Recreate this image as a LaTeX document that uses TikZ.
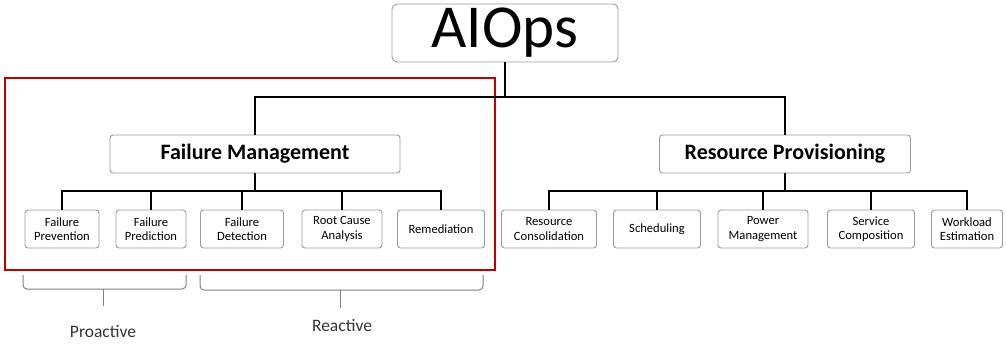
\documentclass[tikz,border=0pt]{standalone}
\usepackage{fontspec}
\setmainfont{Carlito}
\usetikzlibrary{positioning}

\definecolor{boxgray}{HTML}{9A9A9A}
\definecolor{framered}{HTML}{C00000}
\definecolor{labelgray}{HTML}{333333}

\tikzset{
  box/.style={draw=boxgray, line width=0.9pt, rounded corners=3pt, fill=white, inner sep=0pt, align=center},
  topbox/.style={box, rounded corners=5pt, minimum width=226pt, minimum height=58pt, font=\fontsize{61}{64}\selectfont},
  midbox/.style={box, minimum height=38pt, font=\fontsize{22}{26}\selectfont\bfseries},
  leaf/.style={box, minimum height=38pt, font=\fontsize{12.6}{14.5}\selectfont},
  conn/.style={line width=1.8pt},
  bracket/.style={draw=gray, line width=1pt, rounded corners=4pt},
}

\begin{document}
\begin{tikzpicture}[x=1pt, y=-1pt]
\useasboundingbox (0,0) rectangle (1006,347);

\draw[framered, line width=1.8pt] (5,78) rectangle (495,270);

\node[topbox] (aiops) at (505,33) {AIOps};

\node[midbox, minimum width=290pt] (fm) at (255,154) {Failure Management};
\node[midbox, minimum width=251pt] (rp) at (785,154) {Resource Provisioning};

\node[leaf, minimum width=74pt] (fprev) at (62,229)  {Failure\\Prevention};
\node[leaf, minimum width=70pt] (fpred) at (151,229) {Failure\\Prediction};
\node[leaf, minimum width=83pt] (fdet)  at (242,229) {Failure\\Detection};
\node[leaf, minimum width=80pt] (rca)   at (342,229) {Root Cause\\Analysis};
\node[leaf, minimum width=87pt] (rem)   at (441,229) {Remediation};

\node[leaf, minimum width=95pt] (rcons) at (549,229) {Resource\\Consolidation};
\node[leaf, minimum width=87pt] (sched) at (657,229) {Scheduling};
\node[leaf, minimum width=90pt] (pow)   at (763,229) {Power\\Management};
\node[leaf, minimum width=87pt] (serv)  at (871,229) {Service\\Composition};
\node[leaf, minimum width=71pt] (work)  at (967,229) {Workload\\Estimation};

\coordinate (j0) at (505,97);
\coordinate (j1) at (255,191);
\coordinate (j2) at (785,191);

\draw[conn] (aiops.south) -- (j0);
\draw[conn] (fm.north) |- (j0) -| (rp.north);

\draw[conn] (fm.south) -- (j1);
\foreach \n in {fprev,fpred,fdet,rca,rem}
  \draw[conn] (j1) -| (\n.north);

\draw[conn] (rp.south) -- (j2);
\foreach \n in {rcons,sched,pow,serv,work}
  \draw[conn] (j2) -| (\n.north);

\draw[bracket] (23,275) -- (23,289) -- (186,289) -- (186,275);
\draw[draw=gray, line width=1pt] (103,289) -- (103,306);
\draw[bracket] (200,275) -- (200,290) -- (483,290) -- (483,275);
\draw[draw=gray, line width=1pt] (340,290) -- (340,308);

\node[text=labelgray, font=\fontsize{17.5}{20}\selectfont] (pro) at (103,332) {Proactive};
\node[text=labelgray, font=\fontsize{17.5}{20}\selectfont] (rea) at (342,326) {Reactive};
\end{tikzpicture}
\end{document}
